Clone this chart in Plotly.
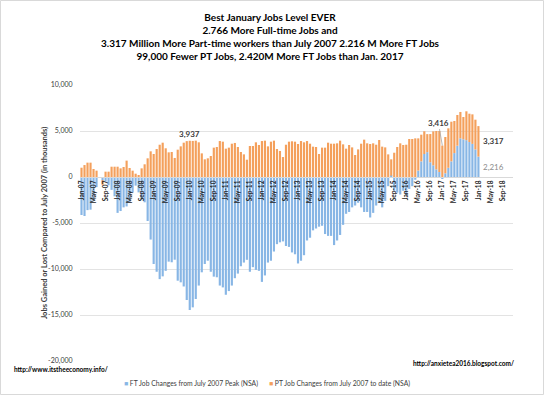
import plotly.graph_objects as go

# ---- data (thousands of jobs, relative to July 2007) ----
month_names = ["Jan", "Feb", "Mar", "Apr", "May", "Jun", "Jul", "Aug", "Sep", "Oct", "Nov", "Dec"]
years = ["07", "08", "09", "10", "11", "12", "13", "14", "15", "16", "17", "18"]
categories = [f"{m}-{y}" for y in years for m in month_names]  # Jan-07 .. Dec-18 axis slots

ft_changes = [
    -4130, -4240, -3600, -3550, -2600, -1100, 0, -350, -500, -900, -1400, -2100,          # 2007
    -3900, -3700, -3300, -3200, -2750, -1670, -940, -1670, -2460, -2750, -4780, -6800,    # 2008
    -9460, -10300, -11100, -10800, -10200, -9200, -9270, -8990, -11270, -11450, -11900, -13370,  # 2009
    -14460, -14170, -13260, -11800, -10360, -9460, -9100, -10300, -10830, -10900, -11800, -12000,  # 2010
    -12800, -12400, -11800, -11000, -10500, -9700, -9300, -9000, -10300, -9800, -10100, -10200,  # 2011
    -11400, -10700, -9300, -9100, -8100, -7300, -7100, -7000, -7500, -7600, -8200, -8400,  # 2012
    -9400, -9100, -8500, -6900, -6600, -5800, -5600, -5400, -5300, -6200, -6400, -6400,   # 2013
    -7400, -6900, -6300, -5200, -4000, -3800, -3300, -3100, -2800, -3300, -3800, -3800,   # 2014
    -4400, -3900, -3100, -2700, -3300, -2600, -1000, 150, -1500, -1700, -1900, -1500,     # 2015
    -2000, -1300, -1000, -300, 700, 1700, 2500, 2700, 1600, 1270, 830, 540,               # 2016
    -204, 400, 1000, 1700, 2600, 3400, 4200, 4100, 4000, 3800, 3600, 3000,                # 2017
    2216,                                                                                  # 2018
]

pt_changes = [
    1010, 1300, 1560, 1560, 870, 690, 0, -500, 580, 580, 1120, 1120,                      # 2007
    1120, 940, 1090, 1780, 980, 690, 360, 180, 940, 1380, 2030, 2790,                     # 2008
    2500, 3040, 3510, 3730, 3120, 2680, 2720, 2070, 2970, 3330, 3730, 3900,               # 2009
    3937, 3920, 3950, 3770, 2570, 1920, 2030, 2280, 3190, 3260, 3910, 3840,               # 2010
    3080, 3190, 3620, 3700, 3260, 2720, 2460, 1880, 3370, 3370, 3770, 3480,               # 2011
    3910, 3950, 3330, 3840, 3950, 3040, 2830, 2170, 3510, 3840, 3880, 3840,               # 2012
    3590, 3910, 3770, 3910, 3620, 3300, 3260, 2500, 3190, 3190, 3730, 3620,               # 2013
    3620, 3660, 3950, 3550, 3080, 3480, 3220, 2390, 3000, 3620, 4060, 3660,               # 2014
    3590, 3660, 3510, 4020, 3300, 3220, 2460, 1770, 2640, 3260, 3660, 3480,               # 2015
    3510, 4130, 4130, 4200, 3500, 2900, 2470, 1960, 3070, 3690, 4170, 4460,               # 2016
    3416, 3950, 4290, 4310, 3490, 3340, 2870, 2420, 3140, 3080, 3210, 3230,               # 2017
    3317,                                                                                  # 2018
]

tick_labels = [f"{m}-{y}" for y in years for m in ("Jan", "May", "Sep")]
y_ticks = [10000, 5000, 0, -5000, -10000, -15000, -20000]
y_tick_text = ["10,000", "5,000", "0", "-5,000", "-10,000", "-15,000", "-20,000"]

ft_name = "FT Job Changes from July 2007 Peak (NSA)"
pt_name = "PT Job Changes from July 2007 to date (NSA)"

title_lines = [
    "Best January Jobs Level EVER",
    "2.766 More Full-time Jobs and",
    "3.317 Million More Part-time workers than July 2007 2.216 M More FT Jobs",
    "99,000 Fewer PT Jobs, 2.420M More FT Jobs than Jan. 2017",
]

BLUE = "#88B6E5"
ORANGE = "#F4A05C"
FONT = "Lato, 'Liberation Sans', sans-serif"

# plot-area geometry (pixels) used to place paper-referenced texts
L, R, T, B = 80, 31, 85, 34
PW, PH = 544 - L - R, 395 - T - B


def px_x(px):
    return (px - L) / PW


def px_y(py):
    return (395 - B - py) / PH


n = len(ft_changes)
x_vals = categories[:n]

fig = go.Figure()
fig.add_trace(go.Bar(x=x_vals, y=ft_changes, name=ft_name, marker=dict(color=BLUE, line=dict(width=0))))
fig.add_trace(go.Bar(x=x_vals, y=pt_changes, name=pt_name, marker=dict(color=ORANGE, line=dict(width=0))))

i_jan10 = categories.index("Jan-10")
i_jan17 = categories.index("Jan-17")
i_last = n - 1
annotations = [
    dict(x=categories[i_jan10], y=pt_changes[i_jan10], text=f"{pt_changes[i_jan10]:,}", showarrow=False,
         yshift=7, font=dict(size=8, color="#404040", family=FONT, weight="bold")),
    dict(x=categories[i_jan17], y=pt_changes[i_jan17], text=f"{pt_changes[i_jan17]:,}", showarrow=True,
         arrowhead=0, arrowwidth=0.8, arrowcolor="#A6A6A6", ax=-4, ay=-23,
         font=dict(size=8, color="#404040", family=FONT, weight="bold")),
    dict(x=categories[i_last], y=ft_changes[i_last] + pt_changes[i_last] / 2, text=f"{pt_changes[i_last]:,}",
         showarrow=False, xshift=3, xanchor="left",
         font=dict(size=8, color="#404040", family=FONT, weight="bold")),
    dict(x=categories[i_last], y=ft_changes[i_last] / 2, text=f"{ft_changes[i_last]:,}",
         showarrow=False, xshift=3, xanchor="left",
         font=dict(size=8, color="#8C8C8C", family=FONT)),
    # title block
    dict(xref="paper", yref="paper", x=px_x(270), y=px_y(36.5), text="<br>".join(title_lines), showarrow=False,
         xanchor="center", yanchor="middle", align="center",
         font=dict(size=10, color="#000000", family=FONT, weight="bold")),
    # y-axis title
    dict(xref="paper", yref="paper", x=px_x(44), y=0.5, text="Jobs Gained or Lost Compared to July 2007 (in thousands)",
         textangle=-90, showarrow=False, xanchor="center", yanchor="middle",
         font=dict(size=7.5, color="#404040", family=FONT, weight="bold")),
    # source notes
    dict(xref="paper", yref="paper", x=px_x(12), y=px_y(369), text="http://www.itstheeconomy.info/", showarrow=False,
         xanchor="left", yanchor="middle", font=dict(size=6.5, color="#000000", family=FONT, weight="bold")),
    dict(xref="paper", yref="paper", x=px_x(516), y=px_y(363), text="http://anxietea2016.blogspot.com/", showarrow=False,
         xanchor="right", yanchor="middle", font=dict(size=6.5, color="#000000", family=FONT, weight="bold")),
    # legend
    dict(xref="paper", yref="paper", x=px_x(122), y=px_y(383),
         text=f"<span style='color:{BLUE}'>■</span> {ft_name}", showarrow=False,
         xanchor="left", yanchor="middle", font=dict(size=6.8, color="#404040", family=FONT)),
    dict(xref="paper", yref="paper", x=px_x(267), y=px_y(383),
         text=f"<span style='color:{ORANGE}'>■</span> {pt_name}", showarrow=False,
         xanchor="left", yanchor="middle", font=dict(size=6.8, color="#404040", family=FONT)),
]

fig.update_layout(
    width=544, height=395,
    margin=dict(l=L, r=R, t=T, b=B, autoexpand=False),
    paper_bgcolor="white", plot_bgcolor="white",
    barmode="relative", bargap=0.28,
    font=dict(family=FONT),
    showlegend=False,
    xaxis=dict(type="category", categoryorder="array", categoryarray=categories,
               range=[-0.5, len(categories) - 0.5], anchor="free", position=2 / 3,
               tickmode="array", tickvals=tick_labels, ticktext=tick_labels, tickangle=-90,
               tickfont=dict(size=6.5, color="#262626", family=FONT, weight="bold"),
               showline=True, linecolor="#D9D9D9", linewidth=1, ticks="", showgrid=False, zeroline=False,
               automargin=False),
    yaxis=dict(range=[-20000, 10000], domain=[0, 1], tickmode="array", tickvals=y_ticks, ticktext=y_tick_text,
               tickfont=dict(size=7, color="#404040", family=FONT), showgrid=True, gridcolor="#E3E3E3",
               gridwidth=1, zeroline=False, showline=False, ticks="outside", ticklen=5,
               tickcolor="rgba(0,0,0,0)", automargin=False),
    annotations=annotations,
    shapes=[dict(type="rect", xref="paper", yref="paper", x0=px_x(0.5), x1=px_x(543.5),
                 y0=px_y(394.5), y1=px_y(0.5), line=dict(color="#D9D9D9", width=1),
                 fillcolor="rgba(0,0,0,0)", layer="below")],
)

fig.write_html("out.html", config={"displayModeBar": False},
               post_script="document.body.style.margin='0px';")
